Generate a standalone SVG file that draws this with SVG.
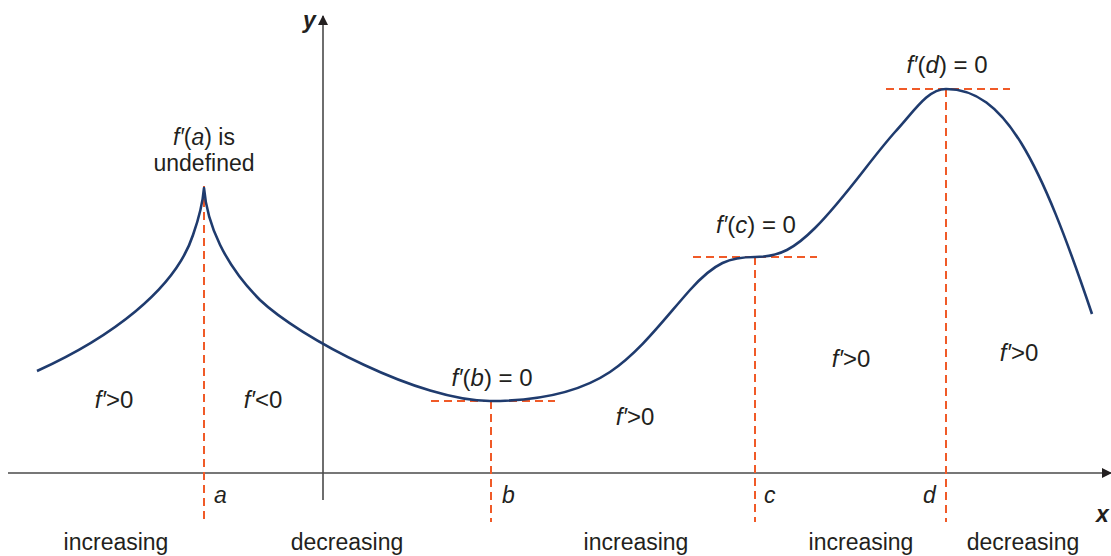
<svg xmlns="http://www.w3.org/2000/svg" width="1111" height="556" viewBox="0 0 1111 556">
<style>
text{font-family:"Liberation Sans",Arial,sans-serif;font-size:23px;fill:#231f20}
.it{font-style:italic}
.eq{font-size:24px}
.axis{stroke:#4a4a4a;stroke-width:1.6;fill:none}
.dash{stroke:#f05a28;stroke-width:2;stroke-dasharray:8 5;fill:none}
.curve{stroke:#1f3b6e;stroke-width:2.6;fill:none;stroke-linejoin:round}
</style>
<defs>
<marker id="arr" viewBox="0 0 10 10" refX="9" refY="5" markerWidth="10" markerHeight="10" markerUnits="userSpaceOnUse" orient="auto">
<path d="M0,0 L10,5 L0,10 Z" fill="#231f20"/>
</marker>
</defs>
<rect width="1111" height="556" fill="#ffffff"/>
<g id="axes">
<line class="axis" x1="8" y1="473" x2="1111" y2="473" marker-end="url(#arr)"/>
<line class="axis" x1="323" y1="500" x2="323" y2="16" marker-end="url(#arr)"/>
<text x="303" y="28" class="it" font-weight="bold">y</text>
<text x="1096" y="522" class="it" font-weight="bold">x</text>
</g>
<g id="connectors">
<line class="dash" x1="204" y1="186" x2="204" y2="522"/>
<line class="dash" x1="491" y1="401" x2="491" y2="522"/>
<line class="dash" x1="431" y1="401" x2="555" y2="401"/>
<line class="dash" x1="755" y1="257" x2="755" y2="522"/>
<line class="dash" x1="693" y1="257" x2="817" y2="257"/>
<line class="dash" x1="946" y1="89" x2="946" y2="522"/>
<line class="dash" x1="886" y1="89" x2="1010" y2="89"/>
</g>
<g id="curve">
<path class="curve" d="M37,371 C110,338 175,290 193,235 C199,218 203,200 204,188 C207,225 225,265 260,300 C300,338 420,401 490,401 C540,401 580,392 610,372 C640,352 665,318 690,290 C715,262 730,257 755,257 C780,257 795,248 815,228 C845,198 870,160 895,132 C915,110 928,89 946,89 C1005,89 1040,160 1092,314"/>
</g>
<g id="node-a">
<text x="204" y="145" text-anchor="middle"><tspan class="it">f′</tspan>(<tspan class="it">a</tspan>) is</text>
<text x="204" y="171" text-anchor="middle">undefined</text>
<text x="214" y="503" class="it">a</text>
</g>
<g id="node-b">
<text x="492" y="386" text-anchor="middle" class="eq"><tspan class="it">f′</tspan>(<tspan class="it">b</tspan>) = 0</text>
<text x="502" y="503" class="it">b</text>
</g>
<g id="node-c">
<text x="756" y="233" text-anchor="middle" class="eq"><tspan class="it">f′</tspan>(<tspan class="it">c</tspan>) = 0</text>
<text x="764" y="503" class="it">c</text>
</g>
<g id="node-d">
<text x="947" y="73" text-anchor="middle" class="eq"><tspan class="it">f′</tspan>(<tspan class="it">d</tspan>) = 0</text>
<text x="923" y="503" class="it">d</text>
</g>
<g id="regions">
<text x="114" y="408" text-anchor="middle" class="eq"><tspan class="it">f′</tspan>&gt;0</text>
<text x="263" y="408" text-anchor="middle" class="eq"><tspan class="it">f′</tspan>&lt;0</text>
<text x="635" y="425" text-anchor="middle" class="eq"><tspan class="it">f′</tspan>&gt;0</text>
<text x="851" y="367" text-anchor="middle" class="eq"><tspan class="it">f′</tspan>&gt;0</text>
<text x="1019" y="361" text-anchor="middle" class="eq"><tspan class="it">f′</tspan>&gt;0</text>
</g>
<g id="labels">
<text x="116" y="550" text-anchor="middle">increasing</text>
<text x="347" y="550" text-anchor="middle">decreasing</text>
<text x="636" y="550" text-anchor="middle">increasing</text>
<text x="861" y="550" text-anchor="middle">increasing</text>
<text x="1023" y="550" text-anchor="middle">decreasing</text>
</g>
</svg>
